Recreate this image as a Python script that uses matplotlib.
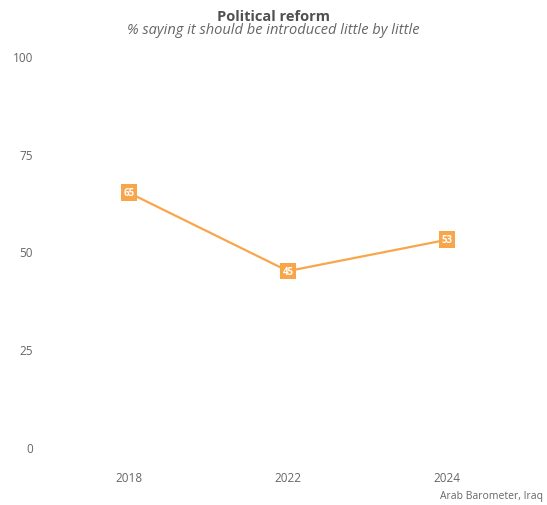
import matplotlib.pyplot as plt

plt.rcParams['font.family'] = ['Open Sans', 'DejaVu Sans']

# survey waves and share saying reform should come little by little
years = ['2018', '2022', '2024']
values = [65, 45, 53]
y_ticks = [0, 25, 50, 75, 100]

orange = '#F9A54A'
grey = '#666666'

fig = plt.figure(figsize=(5.47, 5.06), dpi=100)
ax = fig.add_axes([0.0905, 0.1146, 0.872, 0.7728])

x = list(range(len(years)))
ax.plot(x, values, color=orange, linewidth=1.6, clip_on=False, zorder=2)

# value labels sitting on the points
for xi, v in zip(x, values):
    ax.annotate(str(v), (xi, v), ha='center', va='center', fontsize=7,
                fontweight='bold', color='white', zorder=3,
                bbox=dict(boxstyle='square,pad=0.3', fc=orange, ec='none'))

ax.set_xlim(-0.5, 2.5)
ax.set_ylim(0, 100)
ax.set_xticks(x)
ax.set_xticklabels(years)
ax.set_yticks(y_ticks)
ax.tick_params(length=0, labelsize=8.5, colors=grey)
ax.tick_params(axis='x', pad=17)
ax.tick_params(axis='y', pad=12)
for s in ax.spines.values():
    s.set_visible(False)

fig.text(0.5, 0.966, 'Political reform', ha='center', va='center',
         fontsize=10.5, fontweight='bold', color='#505050')
fig.text(0.5, 0.94, '% saying it should be introduced little by little',
         ha='center', va='center', fontsize=10.5, style='italic', color='#666666')
fig.text(0.993, 0.018, 'Arab Barometer, Iraq', ha='right', va='center',
         fontsize=7.5, color=grey)

fig.savefig('out.png', dpi=100)
